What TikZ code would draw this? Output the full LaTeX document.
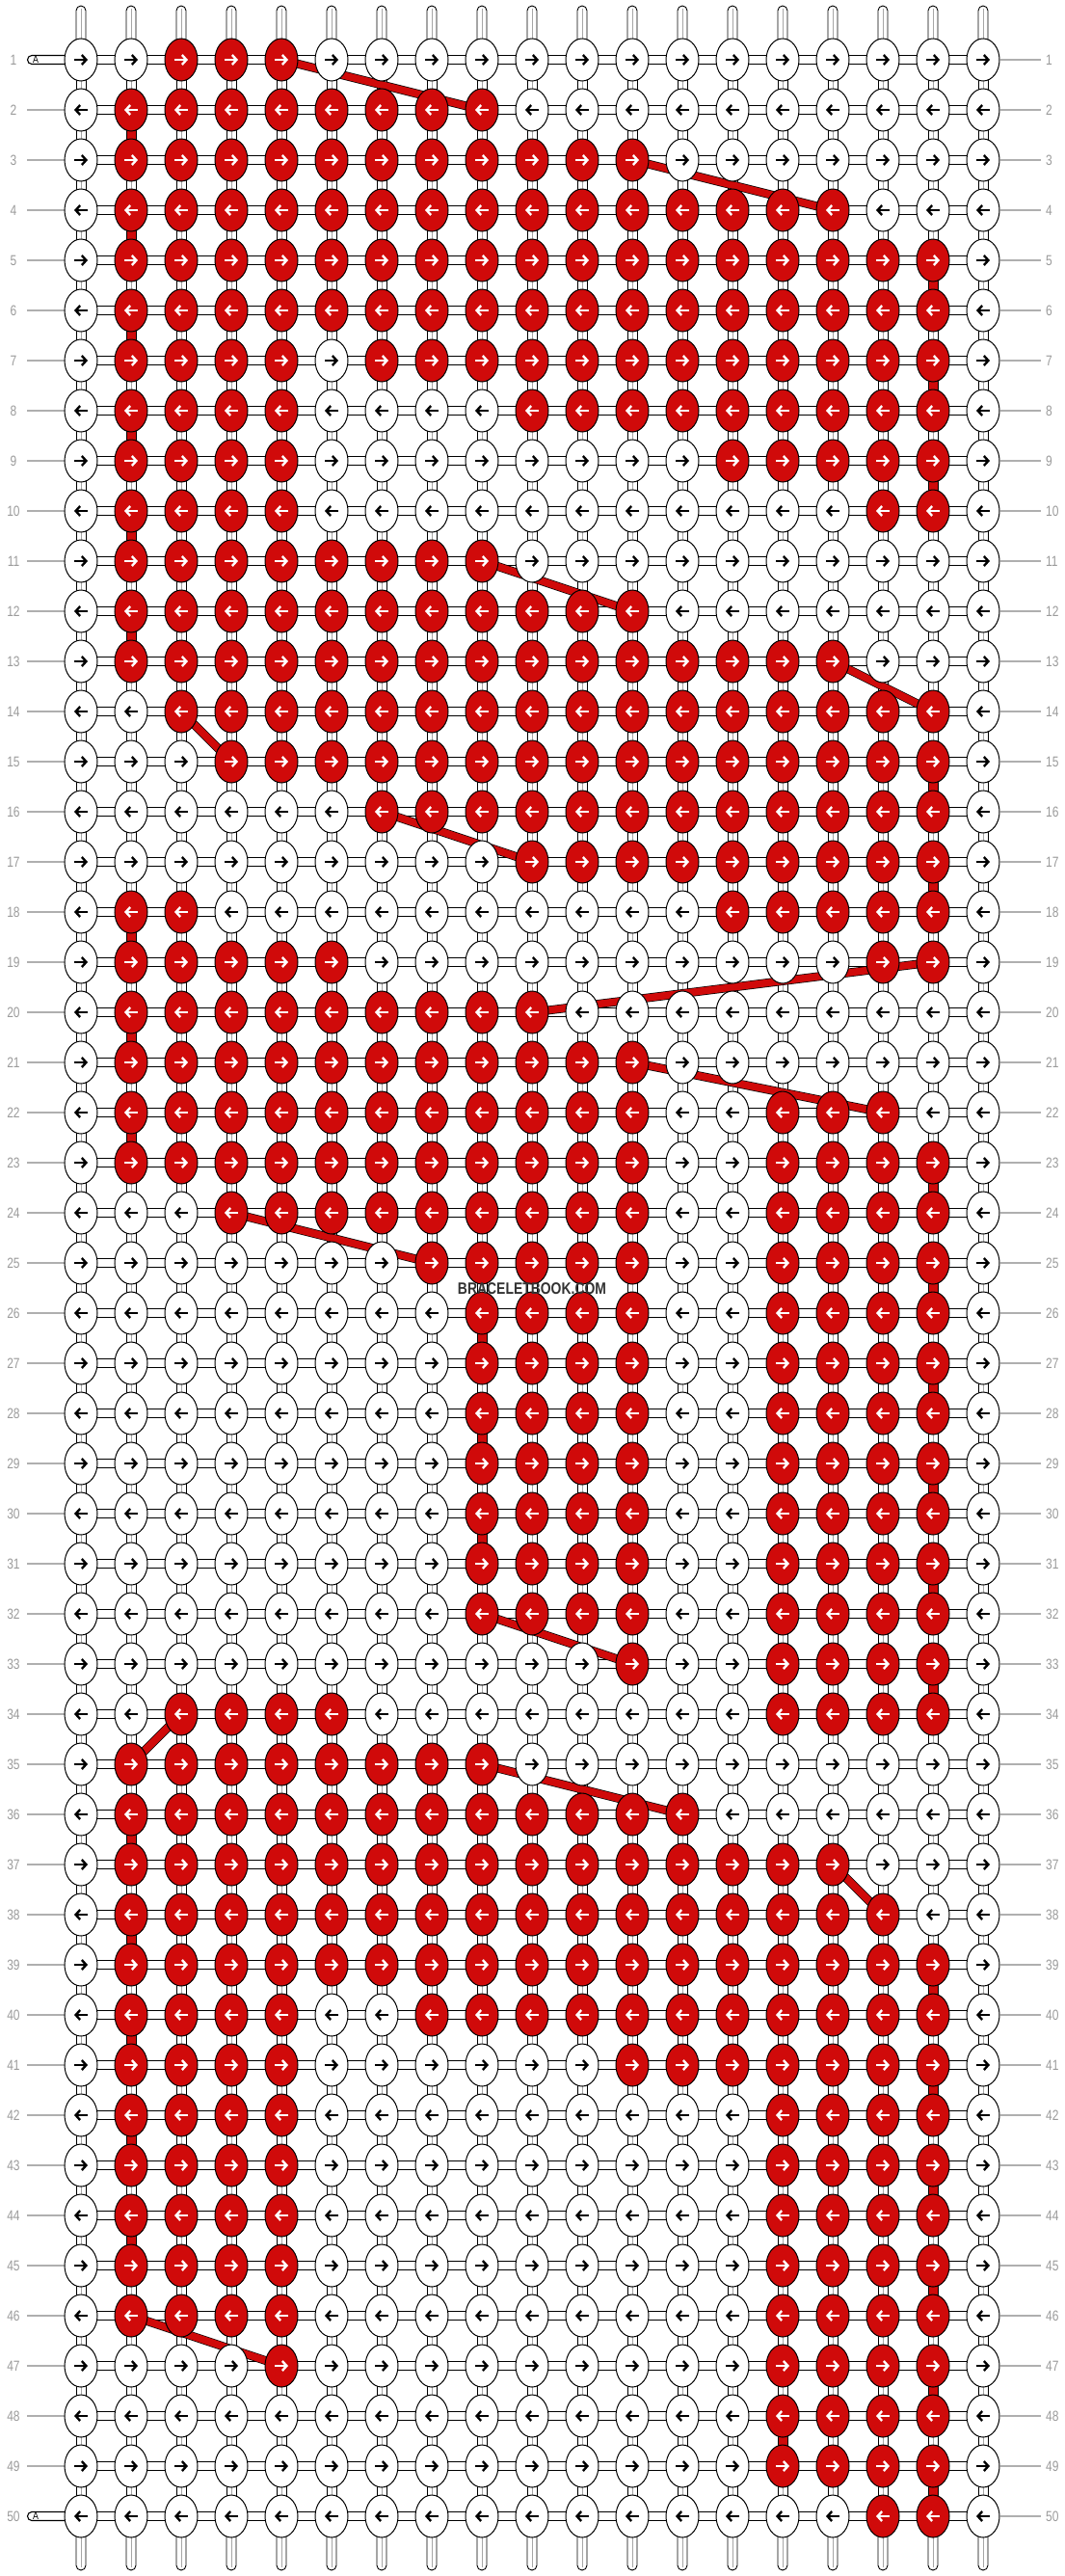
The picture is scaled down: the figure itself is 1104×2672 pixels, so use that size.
\documentclass[tikz,border=0pt]{standalone}
\usepackage{graphicx}
\usepackage{fontspec}
\setmainfont{Liberation Sans}
\usetikzlibrary{shapes.geometric,arrows.meta}
\definecolor{bred}{RGB}{208,10,10}
\definecolor{numgray}{RGB}{155,155,155}
\pgfdeclarelayer{strings}
\pgfdeclarelayer{bars}
\pgfsetlayers{strings,bars,main}
\tikzset{
  knot/.style={ellipse,draw,line width=1pt,minimum width=34pt,minimum height=44pt,inner sep=0pt},
  karrow/.style={line width=2.4pt,-{Straight Barb[length=4.5pt,width=10pt]}},
  hstring/.style={line width=1.1pt},
  vstring/.style={draw,line width=0.9pt,fill=white},
  core/.style={draw=black!35,line width=0.5pt},
  bar/.style={draw=black,line width=0.7pt,double=bred,double distance=7.5pt},
  rowno/.style={text=numgray,font=\fontsize{15}{15}\selectfont,inner sep=0pt},
  rowline/.style={draw=numgray!80,line width=1.2pt}
}
\newcommand\narrow[1]{\scalebox{0.8}[1]{#1}}

\begin{document}
\begin{tikzpicture}[x=1pt,y=-1pt]
\useasboundingbox (0,0) rectangle (1104,2672);
\foreach \r/\reds in {1/{3/5},2/{2/9},3/{2/12},4/{2/16},5/{2/18},6/{2/18},7/{2/5,7/18},8/{2/5,10/18},9/{2/5,14/18},10/{2/5,17/18},
  11/{2/9},12/{2/12},13/{2/16},14/{3/18},15/{4/18},16/{7/18},17/{10/18},18/{2/3,14/18},19/{2/6,17/18},20/{2/10},
  21/{2/12},22/{2/12,15/17},23/{2/12,15/18},24/{4/12,15/18},25/{8/12,15/18},26/{9/12,15/18},27/{9/12,15/18},28/{9/12,15/18},29/{9/12,15/18},30/{9/12,15/18},
  31/{9/12,15/18},32/{9/12,15/18},33/{12/12,15/18},34/{3/6,15/18},35/{2/9},36/{2/13},37/{2/16},38/{2/17},39/{2/18},40/{2/5,8/18},
  41/{2/5,12/18},42/{2/5,15/18},43/{2/5,15/18},44/{2/5,15/18},45/{2/5,15/18},46/{2/5,15/18},47/{5/5,15/18},48/{15/18},49/{15/18},50/{17/18}}{
  \ifodd\r\gdef\ka{-7pt}\gdef\kb{7pt}\else\gdef\ka{7pt}\gdef\kb{-7pt}\fi
  \foreach \c in {1,...,19}{
    \gdef\kfill{white}\gdef\acol{black}
    \foreach \a/\b in \reds{\ifnum\c<\a\else\ifnum\c>\b\else\gdef\kfill{bred}\gdef\acol{white}\fi\fi}
    \node[knot,fill=\kfill] (k-\r-\c) at ({84+52*(\c-1)},{62+52*(\r-1)}) {};
    \draw[karrow,draw=\acol] ([xshift=\ka]k-\r-\c.center) -- ([xshift=\kb]k-\r-\c.center);
  }
  \node[rowno] (ln-\r) at (14,{62+52*(\r-1)}) {\narrow{\r}};
  \node[rowno,anchor=west] (rn-\r) at (1085,{62+52*(\r-1)}) {\narrow{\r}};
  \coordinate (lt-\r) at (28,{62+52*(\r-1)});
  \coordinate (rt-\r) at (1080,{62+52*(\r-1)});
}
\foreach \r in {1,50}{
  \coordinate (cap-\r) at (33,{62+52*(\r-1)});
  \node[font=\fontsize{11}{11}\selectfont,inner sep=0pt] (a-\r) at (37,{62+52*(\r-1)}) {\narrow{A}};
}
\node[font=\bfseries\fontsize{17}{17}\selectfont,text=black!80,inner sep=0pt] (wm) at (552,1337) {\scalebox{0.82}[1]{BRACELETBOOK.COM}};

\begin{pgfonlayer}{strings}
\fill[white] (0,0) rectangle (1104,2672);
\foreach \r in {1,...,50}{
  \draw[hstring] ([yshift=4.5pt]k-\r-1.center) -- ([yshift=4.5pt]k-\r-19.center);
  \draw[hstring] ([yshift=-4.5pt]k-\r-1.center) -- ([yshift=-4.5pt]k-\r-19.center);
  \draw[rowline] (k-\r-19.east) -- (rt-\r);
}
\foreach \r in {2,...,49}
  \draw[rowline] (lt-\r) -- (k-\r-1.west);
\foreach \r in {1,50}
  \draw[hstring,fill=white] ([yshift=4.5pt]k-\r-1.center) -- ([yshift=4.5pt]cap-\r) arc[start angle=90,end angle=270,radius=4.5pt] -- ([yshift=-4.5pt]k-\r-1.center);
\foreach \r in {1,...,49}{
  \pgfmathtruncatemacro\n{\r+1}
  \foreach \c in {1,...,19}{
    \draw[vstring] ([xshift=-5pt]k-\r-\c.center) rectangle ([xshift=5pt]k-\n-\c.center);
    \draw[core] (k-\r-\c.center) -- (k-\n-\c.center);
  }
}
\foreach \r/\c in {5/18,7/18,9/18,15/18,17/18,23/18,25/18,27/18,29/18,31/18,33/18,39/18,41/18,43/18,45/18,47/18,49/18,
  2/2,4/2,6/2,8/2,10/2,12/2,18/2,20/2,22/2,36/2,38/2,40/2,42/2,44/2,26/9,28/9,30/9,48/15}{
  \pgfmathtruncatemacro\n{\r+1}
  \draw[vstring,fill=bred] ([xshift=-5pt]k-\r-\c.center) rectangle ([xshift=5pt]k-\n-\c.center);
}
\foreach \c in {1,...,19}{
  \draw[vstring] ([xshift=-5pt]k-1-\c.center) -- ++(0,-51) arc[start angle=180,end angle=0,radius=5pt] -- ([xshift=5pt]k-1-\c.center);
  \draw[core] (k-1-\c.center) -- ++(0,-53);
  \draw[vstring] ([xshift=-5pt]k-50-\c.center) -- ++(0,51) arc[start angle=180,end angle=360,radius=5pt] -- ([xshift=5pt]k-50-\c.center);
  \draw[core] (k-50-\c.center) -- ++(0,53);
}
\end{pgfonlayer}

\begin{pgfonlayer}{bars}
\foreach \r/\a/\b in {1/5/9,3/12/16,11/9/12,13/16/18,14/3/4,16/7/10,19/18/10,21/12/17,24/4/8,32/9/12,34/3/2,35/9/13,37/16/17,46/2/5}{
  \pgfmathtruncatemacro\n{\r+1}
  \draw[bar] (k-\r-\a.center) -- (k-\n-\b.center);
}
\end{pgfonlayer}
\end{tikzpicture}
\end{document}
